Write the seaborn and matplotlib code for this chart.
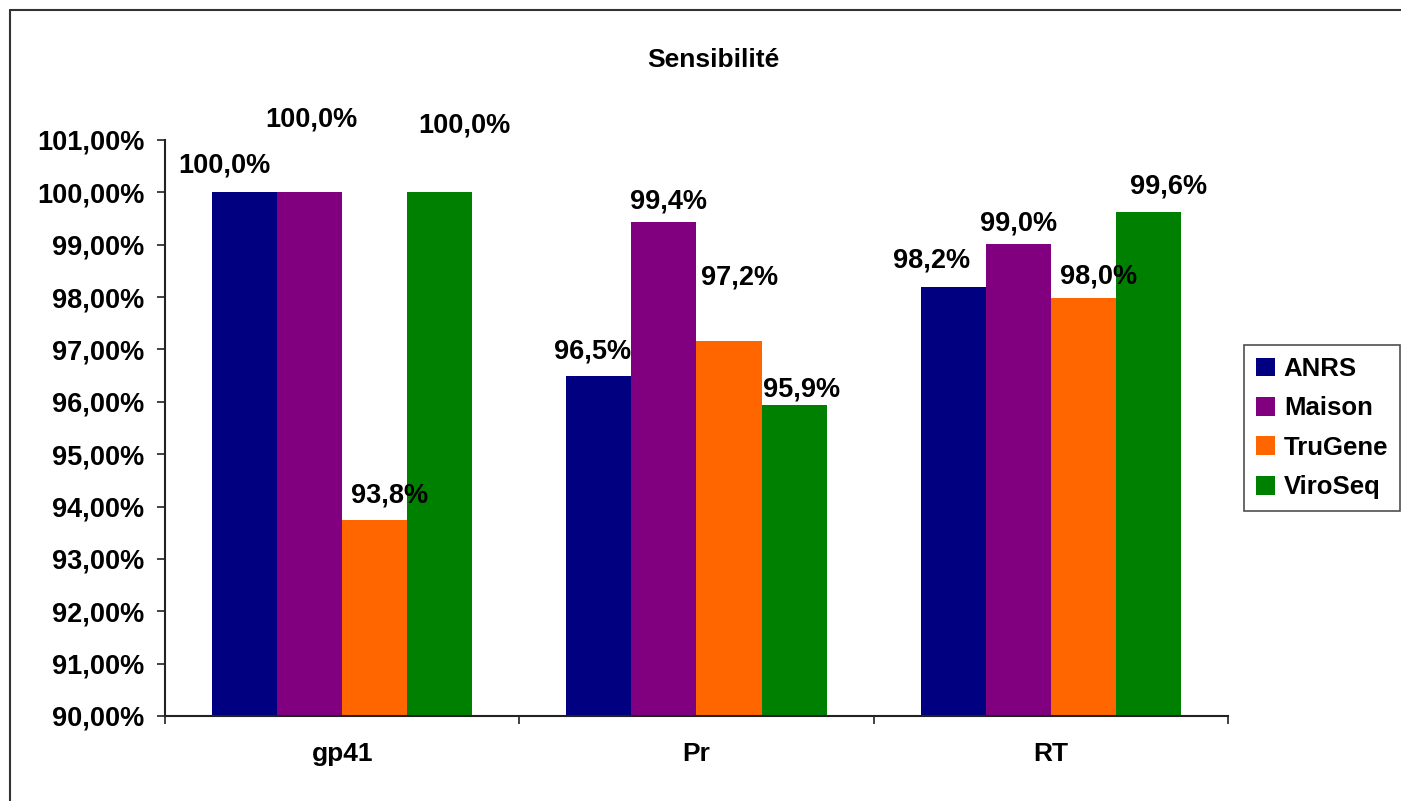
import pandas as pd
import matplotlib.pyplot as plt
import seaborn as sns
from matplotlib.lines import Line2D

# data (sensitivity in %)
genes = ["gp41", "Pr", "RT"]
kits = ["ANRS", "Maison", "TruGene", "ViroSeq"]
anrs = [100.0, 96.5, 98.2]
maison = [100.0, 99.43, 99.01]
trugene = [93.75, 97.16, 97.98]
viroseq = [100.0, 95.94, 99.62]
yticks = [90, 91, 92, 93, 94, 95, 96, 97, 98, 99, 100, 101]

colors = ["#000080", "#800080", "#FF6600", "#008000"]

# label offsets (pixels, from top centre of bar), per gene then kit
label_offsets = [
    [(-20, 27), (2, 73), (15, 24), (25, 67)],
    [(-6, 24), (5, 21), (11, 64), (7, 15)],
    [(-22, 26), (0, 21), (15, 22), (20, 26)],
]

df = pd.DataFrame({
    "gene": genes * 4,
    "kit": [k for k in kits for _ in genes],
    "value": anrs + maison + trugene + viroseq,
})

sns.set_style("white")
plt.rcParams["font.family"] = ["Liberation Sans", "DejaVu Sans"]
plt.rcParams["font.weight"] = "bold"
plt.rcParams["text.color"] = "black"
plt.rcParams["xtick.color"] = "black"
plt.rcParams["ytick.color"] = "black"

fig = plt.figure(figsize=(14.01, 8.01), dpi=100)
ax = fig.add_axes([165 / 1401, 1 - 716 / 801, (1228 - 165) / 1401, (716 - 140) / 801])

sns.barplot(data=df, x="gene", y="value", hue="kit", order=genes, hue_order=kits,
            palette=colors, saturation=1, width=0.735, linewidth=0, ax=ax)

ax.set_ylim(90, 101)
ax.set_xlim(-0.5, 2.5)
ax.set_yticks(yticks)
ax.set_yticklabels([f"{t:.2f}%".replace(".", ",") for t in yticks], fontsize=19.5, fontweight="bold")
ax.set_xticks(range(len(genes)))
ax.set_xticklabels(genes, fontsize=19, fontweight="bold")
ax.set_xticks([-0.5, 0.5, 1.5, 2.5], minor=True)
ax.tick_params(axis="x", which="major", length=0, pad=19)
ax.tick_params(axis="x", which="minor", length=6, width=1.2, direction="out", color="#222222", bottom=True)
ax.tick_params(axis="y", length=6, width=1.2, direction="out", color="#222222", left=True, pad=9)
ax.set_xlabel("")
ax.set_ylabel("")
for s in ["top", "right"]:
    ax.spines[s].set_visible(False)
for s in ["left", "bottom"]:
    ax.spines[s].set_color("#222222")
    ax.spines[s].set_linewidth(1.5)

# value labels
for k, cont in enumerate(ax.containers):
    for g, bar in enumerate(cont):
        h = bar.get_height()
        dx, dy = label_offsets[g][k]
        ax.annotate(f"{h:.1f}%".replace(".", ","),
                    (bar.get_x() + bar.get_width() / 2, h),
                    xytext=(dx * 0.72, dy * 0.72), textcoords="offset points",
                    ha="center", va="center", fontsize=19.5, fontweight="bold",
                    annotation_clip=False)

handles, labels = ax.get_legend_handles_labels()
if ax.legend_ is not None:
    ax.legend_.remove()
leg = fig.legend(handles, labels, loc="center left",
                 bbox_to_anchor=(1244 / 1401, 1 - 428 / 801), bbox_transform=fig.transFigure,
                 fontsize=18.5, frameon=True, fancybox=False, edgecolor="#222222",
                 handlelength=0.75, handleheight=0.75, handletextpad=0.35,
                 labelspacing=0.6, borderpad=0.45, borderaxespad=0)
leg.get_frame().set_linewidth(1.2)
for t in leg.get_texts():
    t.set_fontweight("bold")

fig.text(713 / 1401, 1 - 60 / 801, "Sensibilité", ha="center", va="center",
         fontsize=19, fontweight="bold")

# outer frame of the chart area
fig.add_artist(Line2D([10 / 1401, 10 / 1401], [0, 1 - 10 / 801], transform=fig.transFigure,
                      color="#333333", linewidth=1.5))
fig.add_artist(Line2D([10 / 1401, 1], [1 - 10 / 801, 1 - 10 / 801], transform=fig.transFigure,
                      color="#333333", linewidth=1.5))

fig.savefig("out.png", dpi=100)
